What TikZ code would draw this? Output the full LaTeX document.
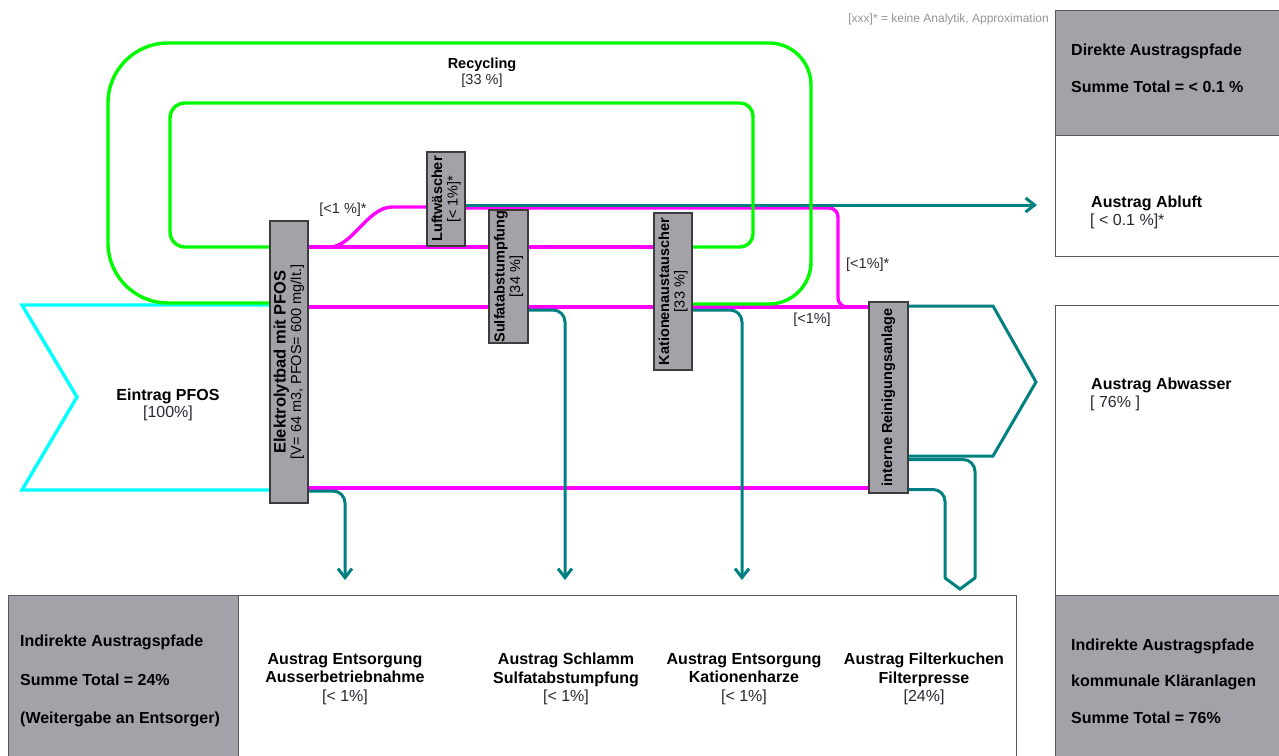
\documentclass[tikz,border=0pt]{standalone}
\usepackage{fontspec}
\setmainfont{Liberation Sans}
\usetikzlibrary{arrows.meta}
\pgfdeclarelayer{bg}
\pgfsetlayers{bg,main}
\definecolor{cgreen}{RGB}{0,250,0}
\definecolor{cmag}{RGB}{255,0,255}
\definecolor{cteal}{RGB}{0,128,128}
\definecolor{ccyan}{RGB}{0,255,255}
\definecolor{cbox}{RGB}{163,162,168}
\definecolor{cedge}{RGB}{60,60,60}
\definecolor{ctxt}{RGB}{40,40,50}
\begin{document}
\begin{tikzpicture}[x=1pt,y=-1pt,
  flow/.style={line width=3.4pt},
  gline/.style={flow,draw=cgreen},
  mline/.style={flow,draw=cmag},
  tline/.style={line width=3pt,draw=cteal},
  tarrow/.style={tline,-{Straight Barb[length=9pt,width=14pt]}},
  unit/.style={draw=cedge,fill=cbox,line width=1.2pt,minimum width=38pt,inner sep=0pt},
  utext/.style={rotate=90,align=center,font=\fontsize{14.5}{15.5}\selectfont,inner sep=0pt,text=black},
  panel/.style={draw=cedge!85,line width=1.3pt,inner sep=0pt,anchor=north west},
  big/.style={font=\fontsize{16}{18.5}\selectfont\bfseries,inner sep=0pt,text=black},
  val/.style={font=\fontsize{16}{18.5}\selectfont,inner sep=0pt,text=ctxt},
  lbl/.style={font=\fontsize{14.5}{16}\selectfont,inner sep=0pt,text=ctxt},
  ctext/.style={align=center,font=\fontsize{16}{18.5}\selectfont,inner sep=0pt,text=black},
]
\useasboundingbox (0,0) rectangle (1279,755);
\clip (0,0) rectangle (1279,755);

% panels
\node[panel,fill=cbox,minimum width=240pt,minimum height=125pt] (dir) at (1055,10) {};
\node[panel,fill=white,minimum width=240pt,minimum height=121pt] (abl) at (1055,135) {};
\node[panel,fill=white,minimum width=240pt,minimum height=290pt] (abw) at (1055,305) {};
\node[panel,fill=cbox,minimum width=240pt,minimum height=175pt] (kom) at (1055,595) {};
\node[panel,fill=cbox,minimum width=230pt,minimum height=175pt] (ind) at (8,595) {};
\node[panel,fill=white,minimum width=778pt,minimum height=175pt] (ent) at (238,595) {};

% process units
\node[unit,minimum height=282pt] (elek) at (289,362) {};
\node[unit,minimum height=94pt] (luft) at (446,199) {};
\node[unit,minimum height=133pt,minimum width=39pt] (sulf) at (508.5,276.5) {};
\node[unit,minimum height=157pt] (kat) at (673,291.5) {};
\node[unit,minimum height=191pt,minimum width=39pt] (intr) at (888.5,397.5) {};

\node[utext] (elekt) at (elek.center) {{\fontsize{16.5}{16}\selectfont\textbf{Elektrolytbad mit PFOS}}\\{[V= 64 m3, PFOS= 600 mg/lt.]}};
\node[utext] (luftt) at (luft.center) {\textbf{Luftwäscher}\\{[< 1\%]*}};
\node[utext] (sulft) at (sulf.center) {\textbf{Sulfatabstumpfung}\\{[34 \%]}};
\node[utext] (katt) at (kat.center) {\textbf{Kationenaustauscher}\\{[33 \%]}};
\node[utext] (intrt) at (intr.center) {\textbf{interne Reinigungsanlage}};

% free texts
\node[anchor=east,font=\fontsize{12}{14}\selectfont,text=black!42,inner sep=0pt] (leg) at (1049,19) {[xxx]* = keine Analytik, Approximation};
\node[ctext,font=\fontsize{14.5}{16}\selectfont] (rec) at (482,73) {\textbf{Recycling}\\{\color{ctxt}[33 \%]}};
\node[ctext,font=\fontsize{16}{17}\selectfont] (ein) at (168,405) {\textbf{Eintrag PFOS}\\{\color{ctxt}[100\%]}};
\node[lbl] (l1) at (343,210) {[<1 \%]*};
\node[lbl,anchor=west] (l2) at (846,265) {[<1\%]*};
\node[lbl] (l3) at (812,320) {[<1\%]};

\node[big,anchor=base west] (d1) at (1071,55) {Direkte Austragspfade};
\node[big,anchor=base west] (d2) at (1071,92) {Summe Total = < 0.1 \%};
\node[big,anchor=base west] (a1) at (1091,207) {Austrag Abluft};
\node[val,anchor=base west] (a2) at (1090,225) {[ < 0.1 \%]*};
\node[big,anchor=base west] (w1) at (1091,389) {Austrag Abwasser};
\node[val,anchor=base west] (w2) at (1090,407) {[ 76\% ]};
\node[big,anchor=base west] (k1) at (1071,650) {Indirekte Austragspfade};
\node[big,anchor=base west] (k2) at (1071,686) {kommunale Kläranlagen};
\node[big,anchor=base west] (k3) at (1071,723) {Summe Total = 76\%};
\node[big,anchor=base west] (i1) at (20,646) {Indirekte Austragspfade};
\node[big,anchor=base west] (i2) at (20,685) {Summe Total = 24\%};
\node[big,anchor=base west] (i3) at (20,723) {(Weitergabe an Entsorger)};

\node[ctext] (b1) at (345,679) {\textbf{Austrag Entsorgung}\\\textbf{Ausserbetriebnahme}\\{\color{ctxt}[< 1\%]}};
\node[ctext] (b2) at (566,679) {\textbf{Austrag Schlamm}\\\textbf{Sulfatabstumpfung}\\{\color{ctxt}[< 1\%]}};
\node[ctext] (b3) at (744,679) {\textbf{Austrag Entsorgung}\\\textbf{Kationenharze}\\{\color{ctxt}[< 1\%]}};
\node[ctext] (b4) at (924,679) {\textbf{Austrag Filterkuchen}\\\textbf{Filterpresse}\\{\color{ctxt}[24\%]}};

\coordinate (ablin) at (1037,205);
\coordinate (tipA) at (345,580);
\coordinate (tipB) at (565,580);
\coordinate (tipC) at (742,580);

\begin{pgfonlayer}{bg}
% input arrow
\draw[flow,draw=ccyan,line join=miter] (elek.west |- 0,305) -- (22,305) -- (77,397) -- (22,490) -- (elek.west |- 0,490);
% magenta flows
\draw[mline] (elek.east |- 0,247) -- (kat.west |- 0,247);
\draw[mline] (elek.east |- 0,247) -- (330,247) .. controls (352,247) and (368,207) .. (392,207) -- (luft.west |- 0,207);
\draw[mline,rounded corners=9pt] (luft.east |- 0,208) -- (838,208) -- (838,307) -- (intr.west |- 0,307);
\draw[mline] (elek.east |- 0,307) -- (intr.west |- 0,307);
\draw[mline] (elek.east |- 0,488) -- (intr.west |- 0,488);
% teal flows
\draw[tarrow] (luft.east |- 0,205) -- (ablin);
\draw[tarrow,rounded corners=12pt] (elek.east |- 0,491) -- (tipA |- 0,491) -- (tipA);
\draw[tarrow,rounded corners=12pt] (sulf.east |- 0,310) -- (tipB |- 0,310) -- (tipB);
\draw[tarrow,rounded corners=12pt] (kat.east |- 0,310) -- (tipC |- 0,310) -- (tipC);
\draw[tline,line join=miter] (intr.east |- 0,306) -- (993,306) -- (1036,382) -- (993,456) -- (intr.east |- 0,456);
\draw[tline,rounded corners=12pt] (intr.east |- 0,459.5) -- (975,459.5) -- (975,578);
\draw[tline,line join=miter,line cap=round] (975,578) -- (960,589) -- (945,578);
\draw[tline,rounded corners=12pt] (945,578) -- (945,489.5) -- (intr.east |- 0,489.5);
% green recycling loops
\draw[gline,rounded corners=60pt] (440,43) -- (108,43) -- (108,303) -- (elek.west |- 0,303);
\draw[gline,rounded corners=42pt] (440,43) -- (811,43) -- (811,304) -- (kat.east |- 0,304);
\draw[gline,rounded corners=15pt] (440,103) -- (170,103) -- (170,247) -- (elek.west |- 0,247);
\draw[gline,rounded corners=13pt] (440,103) -- (753,103) -- (753,247) -- (kat.east |- 0,247);
\end{pgfonlayer}
\end{tikzpicture}
\end{document}
